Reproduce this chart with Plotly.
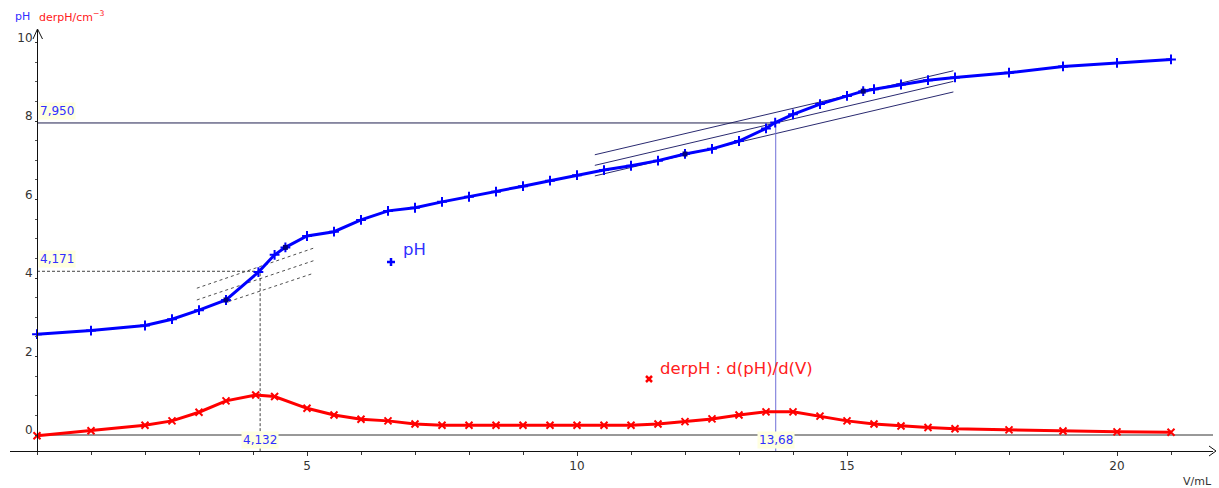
import plotly.graph_objects as go

W, H = 1219, 488

# ---------------- data ----------------
vol_ph = [0, 1, 2, 2.5, 3, 3.5, 4.1, 4.4, 4.6, 5, 5.5, 6, 6.5, 7, 7.5, 8, 8.5, 9, 9.5,
          10, 10.5, 11, 11.5, 12, 12.5, 13, 13.5, 13.67, 14, 14.5, 15, 15.3, 15.5, 16,
          16.5, 17, 18, 19, 20, 21]
ph = [2.57, 2.66, 2.79, 2.95, 3.18, 3.44, 4.15, 4.59, 4.78, 5.07, 5.18, 5.48, 5.71, 5.79,
      5.94, 6.07, 6.20, 6.34, 6.48, 6.62, 6.75, 6.86, 6.99, 7.16, 7.29, 7.49, 7.81, 7.96,
      8.17, 8.43, 8.64, 8.76, 8.81, 8.93, 9.04, 9.11, 9.23, 9.39, 9.48, 9.57]

vol_der = [0, 1, 2, 2.5, 3, 3.5, 4.05, 4.4, 5, 5.5, 6, 6.5, 7, 7.5, 8, 8.5, 9, 9.5, 10,
           10.5, 11, 11.5, 12, 12.5, 13, 13.5, 14, 14.5, 15, 15.5, 16, 16.5, 17, 18, 19,
           20, 21]
derph = [-0.02, 0.11, 0.25, 0.36, 0.58, 0.87, 1.02, 0.98, 0.68, 0.51, 0.40, 0.36, 0.28,
         0.25, 0.25, 0.25, 0.25, 0.25, 0.25, 0.25, 0.25, 0.28, 0.34, 0.41, 0.51, 0.59,
         0.59, 0.48, 0.36, 0.28, 0.23, 0.19, 0.16, 0.13, 0.10, 0.08, 0.07]

# equivalence points (V, pH)
eq1 = (4.132, 4.171)
eq2 = (13.68, 7.950)
eq1_labels = ("4,132", "4,171")
eq2_labels = ("13,68", "7,950")

# tangent construction lines: (x0, y0, x1, y1)
tangents1 = [(2.96, 3.74, 5.12, 4.76), (2.96, 3.44, 5.12, 4.44), (3.55, 3.40, 5.12, 4.12)]
tangents2 = [(10.33, 6.87 + 0.27, 16.97, 9.01 + 0.27), (10.33, 6.87, 16.97, 9.01),
             (10.33, 6.87 - 0.27, 16.97, 9.01 - 0.27)]

x_ticks = [5, 10, 15, 20]
y_ticks = [0, 2, 4, 6, 8, 10]

# ---------------- geometry (pixel -> axes) ----------------
X0PX, XSCALE = 37, 54.0     # px of V=0, px per mL
Y0PX, YSCALE = 435, 39.25   # px of pH=0, px per unit
xl_px, xr_px = 10, 1213
yb_px, yt_px = 451, 30
x_range = [(xl_px - X0PX) / XSCALE, (xr_px - X0PX) / XSCALE]
y_range = [(Y0PX - yb_px) / YSCALE, (Y0PX - yt_px) / YSCALE]
ymin = y_range[0]

BLUE = "#0000ff"
RED = "#ff0000"
FONT = "DejaVu Sans"

fig = go.Figure()

# tangent lines (left: dashed)
for (a, b, c, d) in tangents1:
    fig.add_trace(go.Scatter(x=[a, c], y=[b, d], mode="lines",
                             line=dict(color="#505050", width=1, dash="3px,3px"),
                             hoverinfo="skip", showlegend=False))
for (a, b, c, d) in tangents2:
    fig.add_trace(go.Scatter(x=[a, c], y=[b, d], mode="lines",
                             line=dict(color="#2a2a70", width=1),
                             hoverinfo="skip", showlegend=False))

# equivalence construction lines
fig.add_trace(go.Scatter(x=[0, eq1[0], eq1[0]], y=[eq1[1], eq1[1], ymin], mode="lines",
                         line=dict(color="#444444", width=1, dash="3px,2px"),
                         hoverinfo="skip", showlegend=False))
fig.add_trace(go.Scatter(x=[0, eq2[0]], y=[eq2[1], eq2[1]], mode="lines",
                         line=dict(color="#202050", width=1),
                         hoverinfo="skip", showlegend=False))
fig.add_trace(go.Scatter(x=[eq2[0], eq2[0]], y=[eq2[1], ymin], mode="lines",
                         line=dict(color="#7070d8", width=1),
                         hoverinfo="skip", showlegend=False))

# zero line
fig.add_trace(go.Scatter(x=[0, x_range[1]], y=[0, 0], mode="lines",
                         line=dict(color="#333333", width=1),
                         hoverinfo="skip", showlegend=False))

# main curves
fig.add_trace(go.Scatter(x=vol_der, y=derph, mode="lines+markers", name="derpH",
                         line=dict(color=RED, width=3),
                         marker=dict(symbol="x-thin", size=7, line=dict(color=RED, width=2)),
                         showlegend=False))
fig.add_trace(go.Scatter(x=vol_ph, y=ph, mode="lines+markers", name="pH",
                         line=dict(color=BLUE, width=3),
                         marker=dict(symbol="cross-thin", size=7, line=dict(color=BLUE, width=2)),
                         showlegend=False))

# tangent contact points
idx = [vol_ph.index(v) for v in (3.5, 4.6, 12, 15.3)]
fig.add_trace(go.Scatter(x=[vol_ph[i] for i in idx], y=[ph[i] for i in idx], mode="markers",
                         marker=dict(symbol="square", size=5, color="#000080"),
                         hoverinfo="skip", showlegend=False))

# value labels
lab = dict(font=dict(family=FONT, size=12, color="#3030ff"), bgcolor="#ffffe0",
           showarrow=False, borderpad=1)
annotations = [
    dict(x=0, y=eq1[1], xref="x", yref="y", text=eq1_labels[1], xanchor="left",
         yanchor="bottom", xshift=1, yshift=3, **lab),
    dict(x=0, y=eq2[1], xref="x", yref="y", text=eq2_labels[1], xanchor="left",
         yanchor="bottom", xshift=1, yshift=3, **lab),
    dict(x=eq1[0], y=0, xref="x", yref="y", text=eq1_labels[0], xanchor="center",
         yanchor="top", yshift=4, **lab),
    dict(x=eq2[0], y=0, xref="x", yref="y", text=eq2_labels[0], xanchor="center",
         yanchor="top", yshift=4, **lab),
    dict(x=13 / W, y=1 - 16 / H, xref="paper", yref="paper", text="pH",
         font=dict(family=FONT, size=11, color="#3030ff"), showarrow=False,
         xanchor="left", yanchor="middle"),
    dict(x=37 / W, y=1 - 16 / H, xref="paper", yref="paper",
         text="derpH/cm<sup>\u22123</sup>",
         font=dict(family=FONT, size=11, color="#ff2020"), showarrow=False,
         xanchor="left", yanchor="middle"),
    dict(x=1214 / W, y=1 - 481 / H, xref="paper", yref="paper", text="V/mL",
         font=dict(family=FONT, size=11, color="#333333"), showarrow=False,
         xanchor="right", yanchor="middle"),
    dict(x=401 / W, y=1 - 249 / H, xref="paper", yref="paper", text="pH",
         font=dict(family=FONT, size=16.5, color="#3030ff"), showarrow=False,
         xanchor="left", yanchor="middle"),
    dict(x=658 / W, y=1 - 368 / H, xref="paper", yref="paper", text="derpH : d(pH)/d(V)",
         font=dict(family=FONT, size=16.5, color="#ff2020"), showarrow=False,
         xanchor="left", yanchor="middle"),
]

def P(px, py):
    return px / W, 1 - py / H

def path_of(pts):
    return "M " + " L ".join(f"{P(*p)[0]},{P(*p)[1]}" for p in pts)

shapes = []
# axis arrows
for pts in ([(33, 39), (37.5, 29), (42.5, 39)], [(1209, 446), (1216, 451), (1209, 456)]):
    shapes.append(dict(type="path", path=path_of(pts), xref="paper", yref="paper",
                       line=dict(color="#111111", width=1)))
# legend glyphs: blue plus and red cross
for seg in ([(387, 262), (395, 262)], [(391, 258), (391, 266)]):
    shapes.append(dict(type="path", path=path_of(seg), xref="paper", yref="paper",
                       line=dict(color=BLUE, width=2.5)))
for seg in ([(646, 376), (652, 382)], [(646, 382), (652, 376)]):
    shapes.append(dict(type="path", path=path_of(seg), xref="paper", yref="paper",
                       line=dict(color=RED, width=2.5)))

fig.update_layout(
    width=W, height=H,
    margin=dict(l=0, r=0, t=0, b=0, autoexpand=False),
    paper_bgcolor="white", plot_bgcolor="white",
    showlegend=False,
    font=dict(family=FONT, size=11, color="#333333"),
    xaxis=dict(domain=[xl_px / W, xr_px / W], range=x_range, showgrid=False,
               zeroline=False, showline=True, linecolor="#111111", linewidth=1,
               automargin=False,
               tickvals=x_ticks, ticktext=[str(v) for v in x_ticks], ticks="outside",
               ticklen=4, tickcolor="#333333", tickfont=dict(family=FONT, size=12, color="#333333"),
               minor=dict(dtick=1, tick0=0, ticks="outside", ticklen=3, tickcolor="#333333"),
               anchor="y"),
    yaxis=dict(domain=[1 - yb_px / H, 1 - yt_px / H], range=y_range, showgrid=False,
               zeroline=False, showline=True, linecolor="#111111", linewidth=1,
               automargin=False,
               tickvals=y_ticks, ticktext=[str(v) for v in y_ticks], ticks="outside",
               ticklen=2, tickcolor="#333333", tickfont=dict(family=FONT, size=12, color="#333333"),
               minor=dict(dtick=0.5, tick0=0, ticks="outside", ticklen=2, tickcolor="#555555"),
               ticklabelshift=-5, ticklabelstandoff=0,
               anchor="free", position=X0PX / W),
    annotations=annotations,
    shapes=shapes,
)

fig.write_html("out.html", config={"displayModeBar": False},
               post_script="document.body.style.margin='0px';")
